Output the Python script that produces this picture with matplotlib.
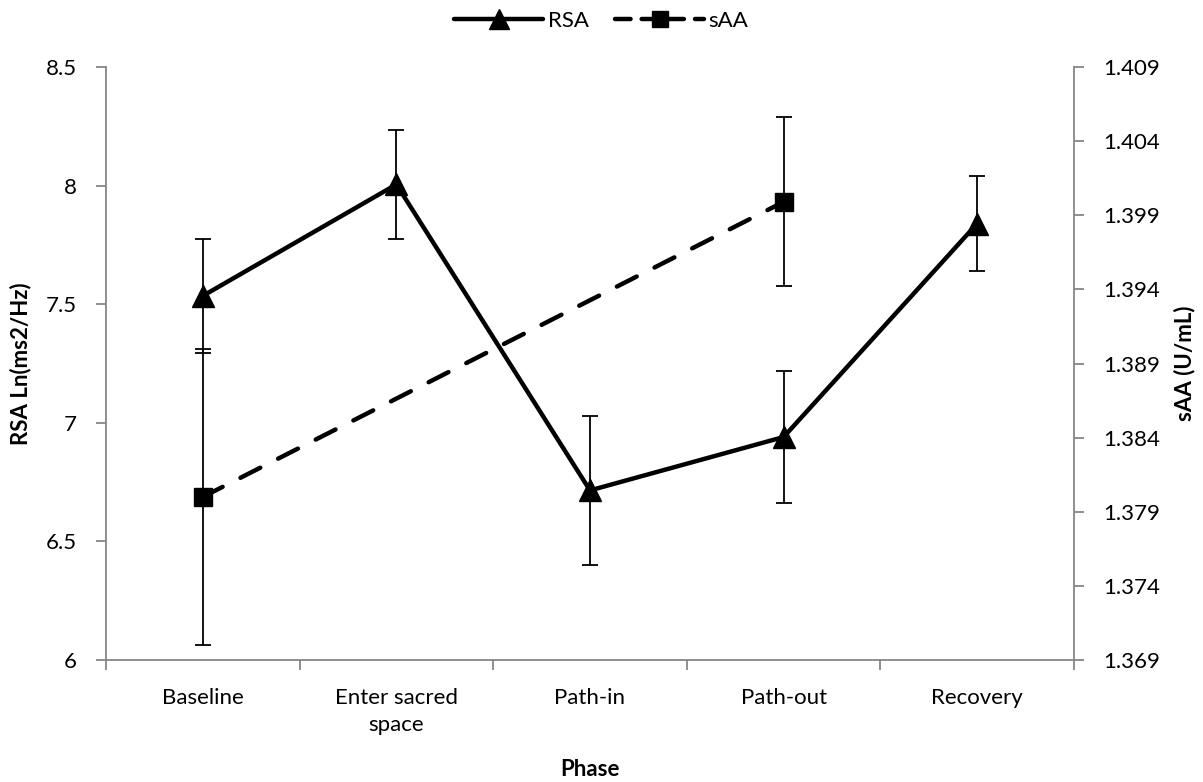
import matplotlib
matplotlib.use("Agg")
import matplotlib.pyplot as plt
import numpy as np
from matplotlib.lines import Line2D

plt.rcParams['font.family'] = ['Lato', 'DejaVu Sans']

phases = ["Baseline", "Enter sacred\nspace", "Path-in", "Path-out", "Recovery"]
rsa = [7.535, 8.005, 6.715, 6.94, 7.84]
rsa_err = [0.24, 0.23, 0.315, 0.28, 0.20]
saa_idx = [0, 3]
saa = [1.3800, 1.3999]
saa_err = [0.0100, 0.0057]

FS = 16
gray = "#868686"
fig = plt.figure(figsize=(12.03, 7.82), dpi=100)
ax = fig.add_axes([106/1203, 1-660/782, (1074-106)/1203, (660-67)/782])
ax2 = ax.twinx()

x = np.arange(len(phases))
ax.errorbar(x, rsa, yerr=rsa_err, color='black', lw=3.2, marker='^', ms=16,
            ecolor='black', elinewidth=1.3, capsize=6, capthick=1.3, zorder=3)
ax2.errorbar(saa_idx, saa, yerr=saa_err, color='black', lw=3.2, marker='s', ms=13,
             ecolor='black', elinewidth=1.3, capsize=6, capthick=1.3,
             linestyle=(0, (5, 4.5)), dash_capstyle='round', zorder=3)

ax.set_xlim(-0.5, 4.5)
ax.set_ylim(6, 8.5)
ax2.set_ylim(1.369, 1.409)
ax.set_yticks(np.arange(6, 8.51, 0.5))
ax.set_yticklabels(["6", "6.5", "7", "7.5", "8", "8.5"])
ax2.set_yticks([1.369 + 0.005*i for i in range(9)])
ax2.set_yticklabels(["%.3f" % (1.369 + 0.005*i) for i in range(9)])

ax.set_xticks(x)
ax.set_xticklabels(phases, fontsize=FS, linespacing=1.45)
ax.set_xticks(np.arange(-0.5, 4.6, 1), minor=True)
ax.tick_params(axis='x', which='major', length=0, pad=20)
ax.tick_params(axis='x', which='minor', length=7, color=gray, width=1.3, direction='out')
ax.tick_params(axis='y', length=7, color=gray, width=1.3, labelsize=FS, pad=14)
ax2.tick_params(axis='y', length=7, color=gray, width=1.3, labelsize=FS, pad=14)

for a in (ax, ax2):
    a.spines['top'].set_visible(False)
    for s in ('left', 'right', 'bottom'):
        a.spines[s].set_color(gray)
        a.spines[s].set_linewidth(1.3)
ax.spines['right'].set_visible(False)
ax2.spines['left'].set_visible(False)
ax2.spines['bottom'].set_visible(False)

ax.set_ylabel("RSA Ln(ms2/Hz)", fontsize=FS, fontweight='bold', labelpad=10)
ax2.set_ylabel("sAA (U/mL)", fontsize=FS, fontweight='bold', rotation=90, labelpad=10)
ax.set_xlabel("Phase", fontsize=FS, fontweight='bold', labelpad=17)

handles = [Line2D([], [], color='black', lw=3.2, marker='^', ms=14, solid_capstyle='round'),
           Line2D([], [], color='black', lw=3.2, marker='s', ms=11,
                  linestyle=(0, (3.5, 2.5)), dash_capstyle='round')]
fig.legend(handles, ["RSA", "sAA"], loc='upper center', bbox_to_anchor=(0.5, 1.012),
           ncol=2, frameon=False, fontsize=FS, handlelength=4, handletextpad=0.2,
           columnspacing=1.2)

fig.savefig("out.png", dpi=100)
